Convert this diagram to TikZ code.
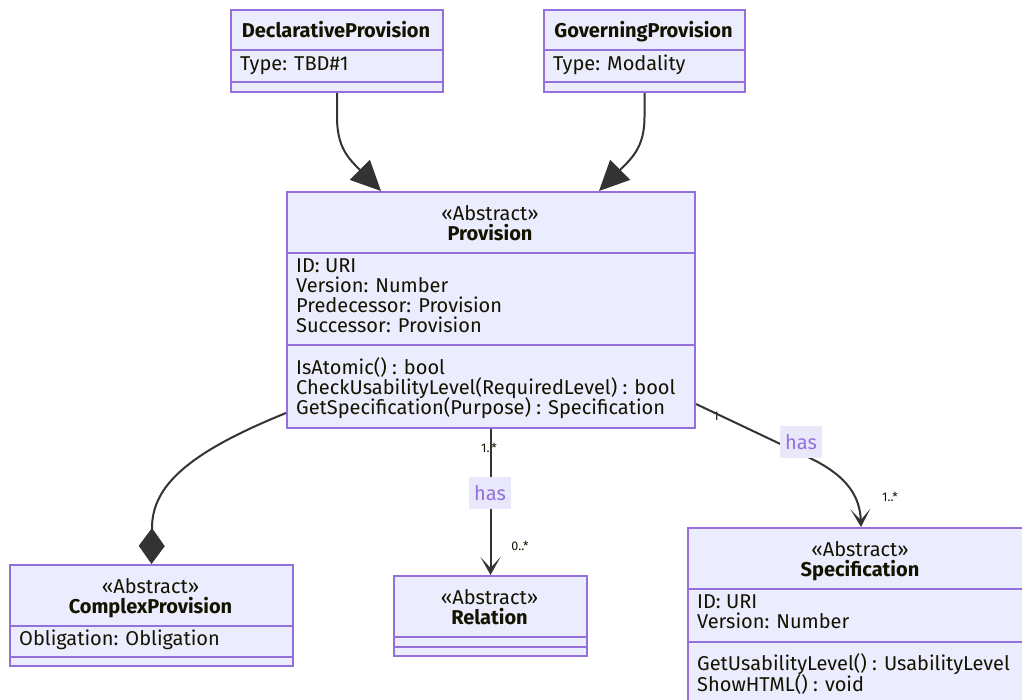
\documentclass[tikz,border=0pt]{standalone}
\usepackage{fontspec}
\setmainfont{Fira Sans}
\usetikzlibrary{arrows.meta}
\definecolor{boxfill}{HTML}{ECECFF}
\definecolor{boxline}{HTML}{9370DB}
\definecolor{edgecol}{HTML}{333333}
\definecolor{txt}{HTML}{131300}
\definecolor{lblbg}{HTML}{E8E8FA}
\newcommand{\fs}{\fontsize{20}{20}\selectfont}
\tikzset{
  cls/.style={draw=boxline, fill=boxfill, line width=2pt, rectangle, inner sep=0pt, anchor=north west},
  divider/.style={draw=boxline, line width=2pt},
  ctext/.style={inner sep=0pt, text=txt, font=\fs, text height=14.5pt, text depth=1pt},
  ltext/.style={ctext, anchor=west},
  card/.style={inner sep=0pt, text=txt, font=\fontsize{12.5}{13}\selectfont},
  haslbl/.style={fill=lblbg, text=boxline, font=\fs, inner xsep=4pt, minimum height=32pt, minimum width=42pt},
  conn/.style={draw=edgecol, line width=2pt},
  ext/.style={conn, -{Triangle[length=30pt,width=28pt]}},
  assoc/.style={conn, -{Stealth[length=18pt,width=20pt,inset=11pt]}},
  comp/.style={conn, -{Diamond[length=36pt,width=26pt]}},
}
\begin{document}
\begin{tikzpicture}[x=1pt,y=-1pt]
\useasboundingbox (0,0) rectangle (1022,699);
\clip (0,0) rectangle (1022,699);
% DeclarativeProvision
\node[cls, minimum width=212pt, minimum height=82pt] (dp) at (230,9) {};
\draw[divider] (230,50) -- (442,50);
\draw[divider] (230,82) -- (442,82);
\node[ctext] (dpt) at (336,31) {\textbf{DeclarativeProvision}};
\node[ltext] (dpa) at (240,64) {Type: TBD\#1};
% GoverningProvision
\node[cls, minimum width=201pt, minimum height=82pt] (gp) at (543,9) {};
\draw[divider] (543,50) -- (744,50);
\draw[divider] (543,82) -- (744,82);
\node[ctext] (gpt) at (643.5,31) {\textbf{GoverningProvision}};
\node[ltext] (gpa) at (553,64) {Type: Modality};
% Provision
\node[cls, minimum width=408pt, minimum height=236pt] (pv) at (286,191) {};
\draw[divider] (286,253) -- (694,253);
\draw[divider] (286,345) -- (694,345);
\node[ctext] (pvs) at (490,214) {«Abstract»};
\node[ctext] (pvt) at (490,234) {\textbf{Provision}};
\node[ltext] (pva1) at (296,266) {ID: URI};
\node[ltext] (pva2) at (296,286) {Version: Number};
\node[ltext] (pva3) at (296,306) {Predecessor: Provision};
\node[ltext] (pva4) at (296,326) {Successor: Provision};
\node[ltext] (pvm1) at (296,368) {IsAtomic() : bool};
\node[ltext] (pvm2) at (296,388) {CheckUsabilityLevel(RequiredLevel) : bool};
\node[ltext] (pvm3) at (296,408) {GetSpecification(Purpose) : Specification};
% ComplexProvision
\node[cls, minimum width=283pt, minimum height=101pt] (cp) at (9,564) {};
\draw[divider] (9,626) -- (292,626);
\draw[divider] (9,657) -- (292,657);
\node[ctext] (cps) at (150.5,587) {«Abstract»};
\node[ctext] (cpt) at (150.5,607) {\textbf{ComplexProvision}};
\node[ltext] (cpa) at (19,639) {Obligation: Obligation};
% Relation
\node[cls, minimum width=193pt, minimum height=80pt] (rl) at (393,575) {};
\draw[divider] (393,637) -- (586,637);
\draw[divider] (393,647) -- (586,647);
\node[ctext] (rls) at (489.5,598) {«Abstract»};
\node[ctext] (rlt) at (489.5,618) {\textbf{Relation}};
% Specification
\node[cls, minimum width=346pt, minimum height=190pt] (sp) at (687,527) {};
\draw[divider] (687,589) -- (1033,589);
\draw[divider] (687,642) -- (1033,642);
\node[ctext] (sps) at (860,550) {«Abstract»};
\node[ctext] (spt) at (860,570) {\textbf{Specification}};
\node[ltext] (spa1) at (697,602) {ID: URI};
\node[ltext] (spa2) at (697,622) {Version: Number};
\node[ltext] (spm1) at (697,664) {GetUsabilityLevel() : UsabilityLevel};
\node[ltext] (spm2) at (697,685) {ShowHTML() : void};
% connectors
\coordinate (dpin) at ([xshift=-110pt]pv.north);
\coordinate (gpin) at ([xshift=108pt]pv.north);
\draw[ext] (dp.south) -- ++(0,24) .. controls +(0,30) and (348,158) .. (dpin);
\draw[ext] (gp.south) -- ++(0,24) .. controls +(0,30) and (632,158) .. (gpin);
\coordinate (cpout) at ([yshift=16pt]pv.south west);
\draw[comp] (cpout) .. controls (190,452) and (152,485) .. (152,528) -- (cp.north);
% Provision -> Relation
\node[card] (c1) at (489,448) {1..*};
\node[card] (c2) at (520,546) {0..*};
\draw[assoc] (pv.south -| rl.north) -- (rl.north);
\node[haslbl] (h1) at (490,493) {has};
% Provision -> Specification
\coordinate (spout) at ([yshift=-94pt]pv.east);
\node[card] (c3) at (716,416) {1};
\node[card] (c4) at (890,497) {1..*};
\draw[assoc] (spout) -- (812,459) .. controls (848,477) and (860,497) .. (sp.north);
\node[haslbl] (h2) at (801,442) {has};
\end{tikzpicture}
\end{document}
